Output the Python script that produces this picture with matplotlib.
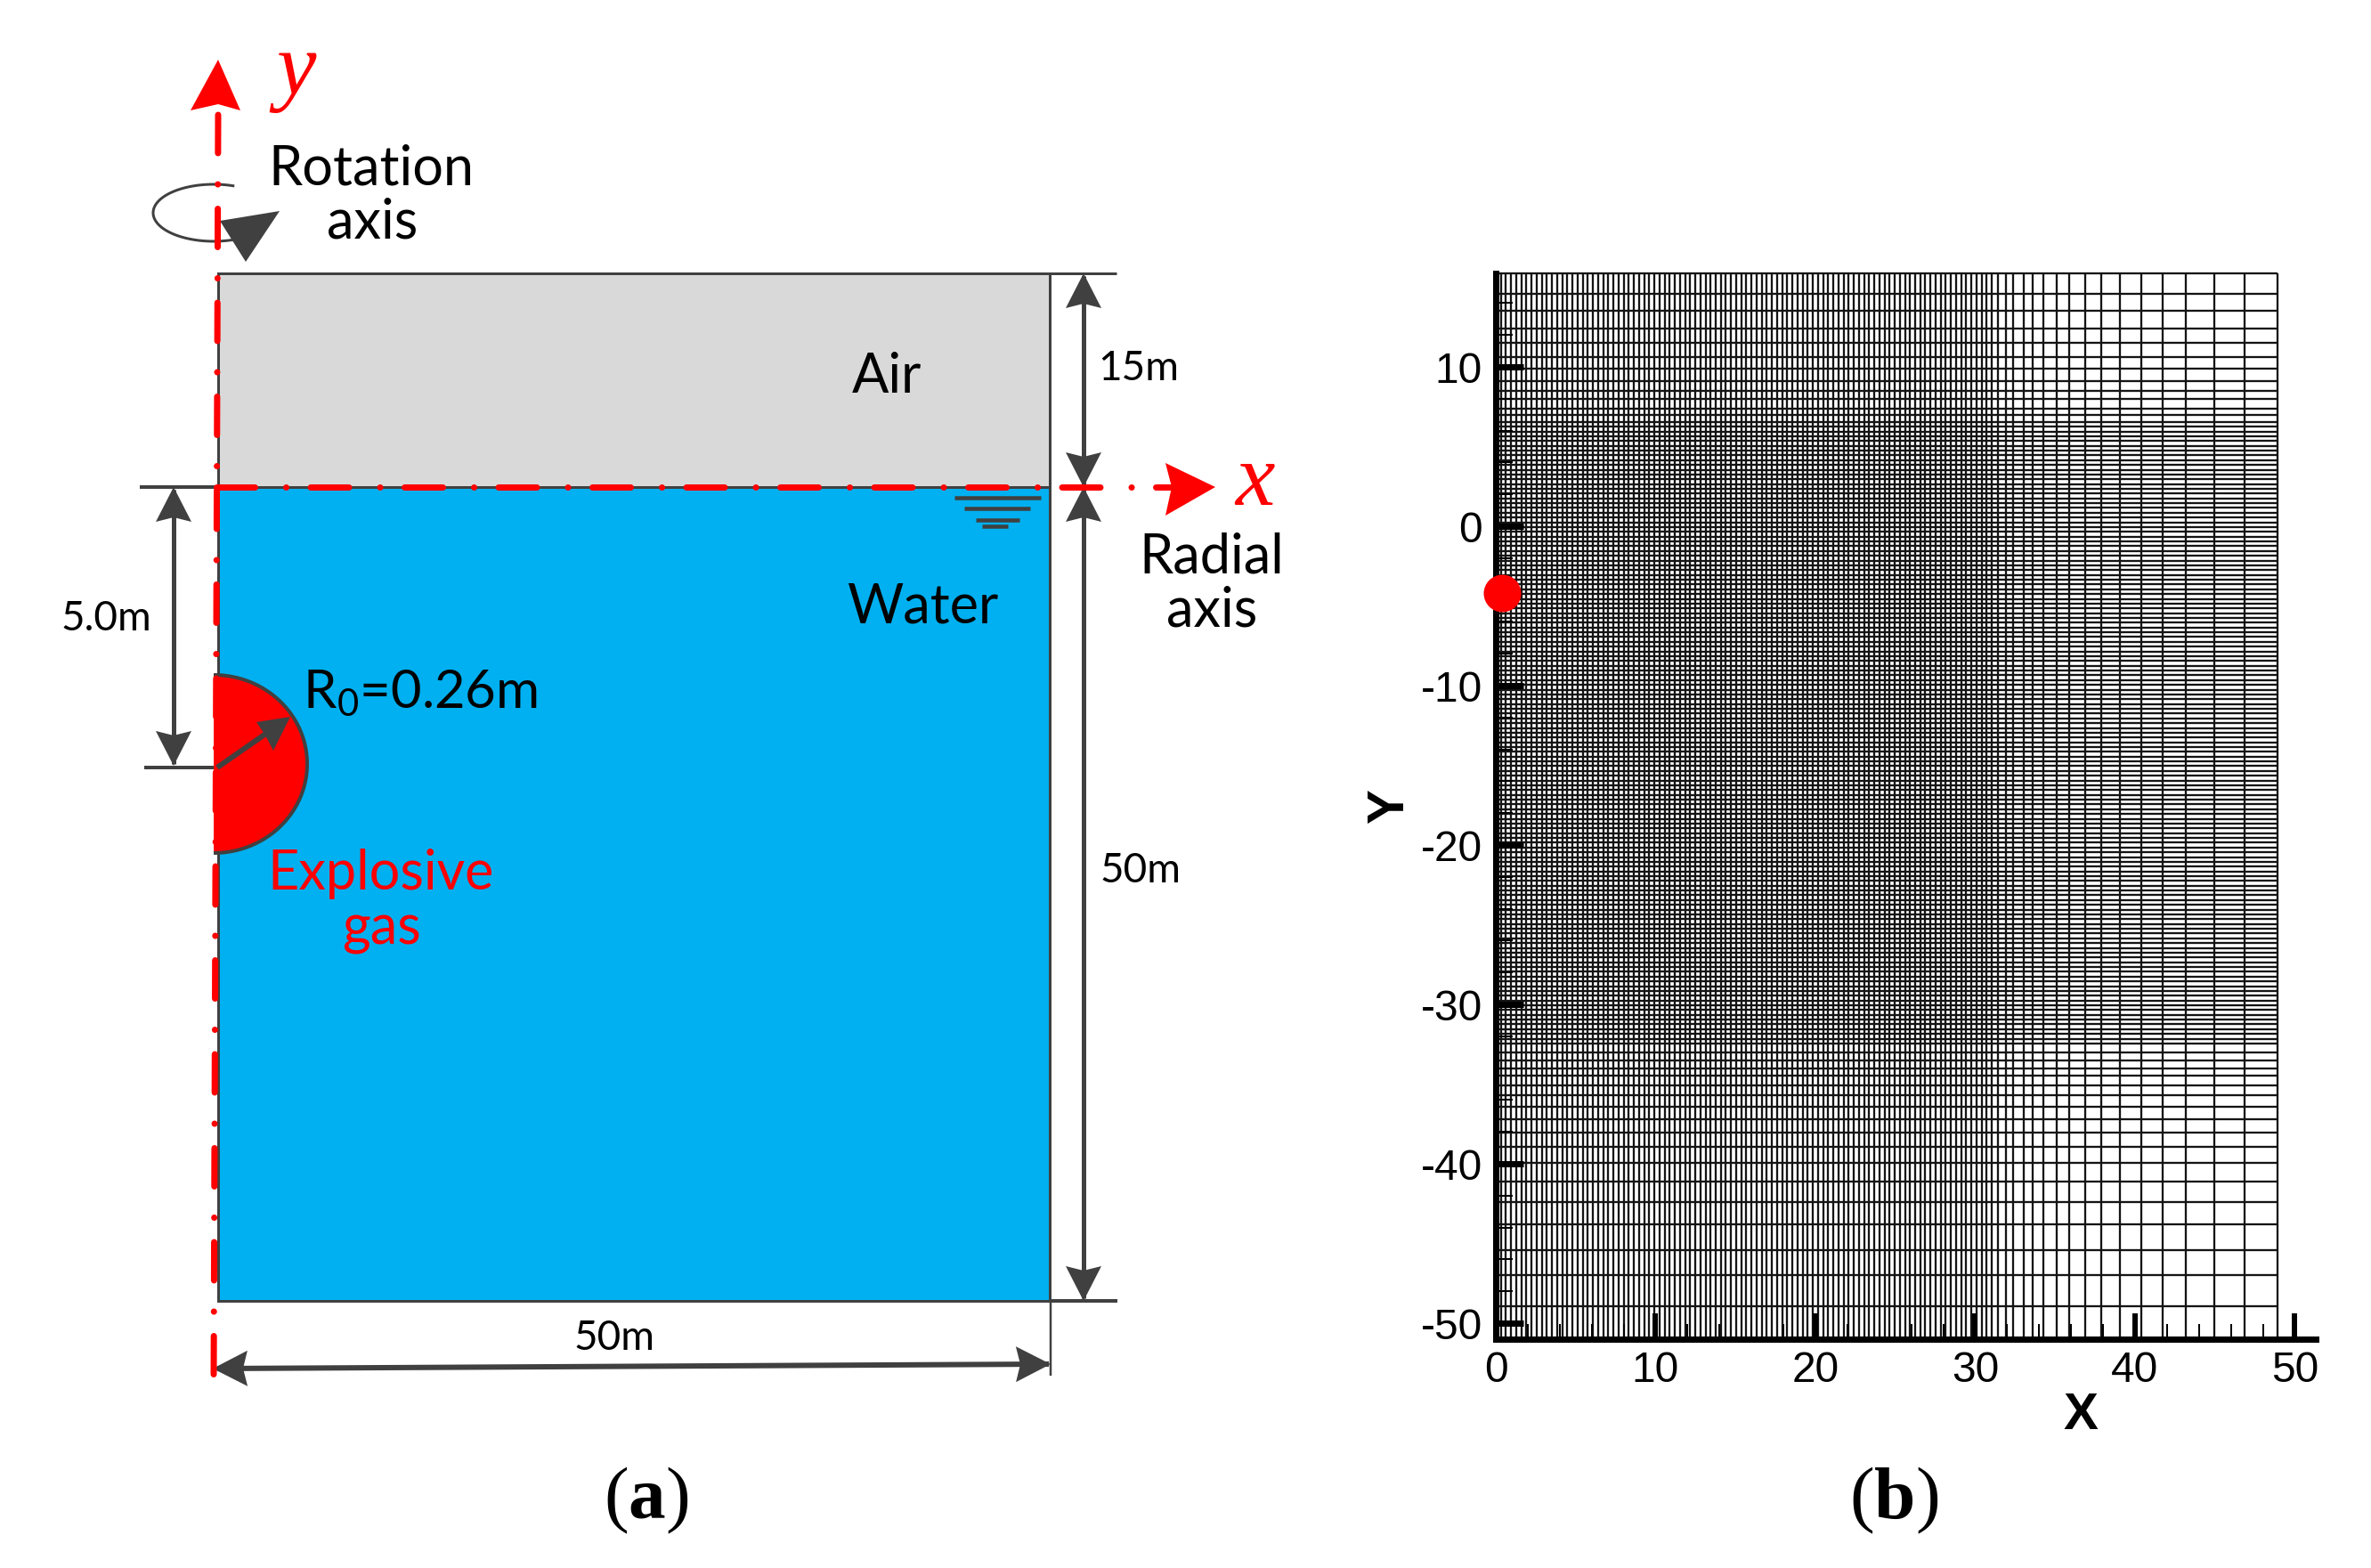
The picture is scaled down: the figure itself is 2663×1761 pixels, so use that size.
import numpy as np
import matplotlib
matplotlib.use("Agg")
import matplotlib.pyplot as plt
from matplotlib.patches import Polygon, Rectangle
from matplotlib.lines import Line2D

plt.rcParams['lines.scale_dashes'] = False
plt.rcParams['mathtext.fontset'] = 'custom'
plt.rcParams['mathtext.rm'] = 'Lato'
plt.rcParams['mathtext.sf'] = 'Liberation Serif'
plt.rcParams['mathtext.bf'] = 'Liberation Serif:bold'
plt.rcParams['axes.unicode_minus'] = False

# ---- mesh of panel (b) ------------------------------------------------------
mesh_x = [0.00,0.32,0.64,0.96,1.28,1.60,1.92,2.24,2.56,2.88,
 3.20,3.52,3.84,4.16,4.48,4.80,5.12,5.44,5.76,6.08,
 6.40,6.72,7.04,7.36,7.68,8.00,8.32,8.64,8.96,9.28,
 9.60,9.92,10.24,10.56,10.88,11.20,11.52,11.84,12.16,12.48,
 12.80,13.12,13.44,13.76,14.08,14.40,14.72,15.04,15.36,15.68,
 16.00,16.32,16.64,16.96,17.28,17.60,17.92,18.24,18.56,18.88,
 19.20,19.52,19.84,20.16,20.48,20.80,21.12,21.44,21.76,22.08,
 22.40,22.72,23.04,23.36,23.68,24.00,24.32,24.64,24.96,25.28,
 25.60,25.92,26.24,26.56,26.88,27.20,27.52,27.84,28.16,28.48,
 28.80,29.12,29.44,29.76,30.08,30.40,30.72,
 31.03,31.42,31.92,32.37,33.04,33.60,34.26,35.10,35.90,36.86,
 37.90,39.03,40.37,41.70,43.20,44.94,46.85,48.93]
mesh_y = [15.87,14.6,13.5,12.4,11.5,10.6,9.9,9.1,8.5,7.97,7.37,7.0,
 6.55,6.25,5.95,5.65,5.35,5.05,4.75,4.45,4.15,3.85,3.55,3.25,2.95,2.65,2.35,
 2.05,1.75,1.45,1.15,0.85,0.55,0.25,-0.05,-0.35,-0.65,-0.95,-1.25,-1.55,-1.85,
 -2.15,-2.45,-2.75,-3.05,-3.35,-3.65,-3.95,-4.25,-4.55,-4.85,-5.15,-5.45,-5.75,
 -6.05,-6.35,-6.65,-6.95,-7.25,-7.55,-7.85,-8.15,-8.45,-8.75,-9.05,-9.35,-9.65,
 -9.95,-10.25,-10.55,-10.85,-11.15,-11.45,-11.75,-12.05,-12.35,-12.65,-12.95,
 -13.25,-13.55,-13.85,-14.15,-14.45,-14.75,-15.05,-15.35,-15.65,-15.95,-16.25,
 -16.55,-16.85,-17.15,-17.45,-17.75,-18.05,-18.35,-18.65,-18.95,-19.25,-19.55,
 -19.85,-20.15,-20.45,-20.75,-21.05,-21.35,-21.65,-21.95,-22.25,-22.55,-22.85,
 -23.15,-23.45,-23.75,-24.05,-24.35,-24.65,-24.95,-25.25,-25.55,-25.85,-26.15,
 -26.45,-26.75,-27.05,-27.35,-27.65,-27.95,-28.25,-28.55,-28.85,-29.15,-29.45,
 -29.75,-30.05,-30.35,-30.65,-30.95,-31.25,-31.55,-31.85,-32.15,-32.45,
 -33.0,-33.5,-34.0,-34.49,-35.08,-35.67,-36.4,-37.18,-38.02,-38.96,-39.94,
 -41.1,-42.4,-43.8,-45.4,-47.0,-48.92]
charge_point = (0.4, -4.2)

x_major = [0, 10, 20, 30, 40, 50]
x_major_labels = ['0', '10', '20', '30', '40', '50']
y_major = [10, 0, -10, -20, -30, -40, -50]
y_major_labels = ['10', '0', '-10', '-20', '-30', '-40', '-50']
x_minor = [2,4,6,8,12,14,16,18,22,24,26,28,32,34,36,38,42,44,46,48]
y_minor = [14,12,8,6,4,2,-2,-4,-6,-8,-12,-14,-16,-18,-22,-24,-26,-28,-32,-34,-36,-38,-42,-44,-46,-48]

W, H = 2663, 1761
px = 0.72            # points per pixel at dpi 100
DARK = '#404040'; RED = '#FF0000'; WATER = '#00B0F0'; AIR = '#D9D9D9'

fig = plt.figure(figsize=(W/100, H/100), dpi=100, facecolor='white')

# ---- panel (b) --------------------------------------------------------------
L, R_, T, B = 1680, 2601, 307, 1504
axb = fig.add_axes([L/W, 1-B/H, (R_-L)/W, (B-T)/H])
axb.set_xlim(0, 51.31); axb.set_ylim(-51.0, 15.87)
mesh_kw = dict(color='#141414', lw=1.65, clip_on=False, zorder=1)
axb.vlines(mesh_x, -51.0, mesh_y[0], **mesh_kw)
axb.hlines(mesh_y, 0, mesh_x[-1], **mesh_kw)
for s in ('top', 'right'):
    axb.spines[s].set_visible(False)
for s in ('left', 'bottom'):
    axb.spines[s].set_linewidth(7*px); axb.spines[s].set_zorder(5)
axb.set_xticks(x_major, x_major_labels, family='Liberation Sans', fontsize=34.5)
axb.set_yticks(y_major, y_major_labels, family='Liberation Sans', fontsize=34.5)
axb.set_xticks(x_minor, minor=True); axb.set_yticks(y_minor, minor=True)
axb.tick_params(axis='x', which='major', direction='in', length=29*px, width=6*px, pad=13*px, zorder=4)
axb.tick_params(axis='x', which='minor', direction='in', length=17*px, width=2*px, zorder=4)
axb.tick_params(axis='y', which='major', direction='in', length=31*px, width=7*px, pad=15*px, zorder=4)
axb.tick_params(axis='y', which='minor', direction='in', length=19*px, width=2*px, zorder=4)
axb.scatter(*charge_point, s=(42*px)**2, color=RED, linewidths=0, clip_on=False, zorder=6)

# ---- schematic of panel (a), in figure pixels --------------------------------
ax = fig.add_axes([0, 0, 1, 1], facecolor='none')
ax.set_xlim(0, W); ax.set_ylim(H, 0); ax.axis('off')

def line(xs, ys, lw=5, color=DARK, z=5, **k):
    ax.add_line(Line2D(xs, ys, lw=lw*px, color=color, zorder=z, solid_capstyle=k.pop('cap', 'butt'), **k))

def poly(pts, color=DARK, z=6):
    ax.add_patch(Polygon(pts, closed=True, fc=color, ec='none', zorder=z))

def stealth(tx, ty, dx, dy, length=39, half=20, notch=5, color=DARK, z=6):
    """arrow head with its tip at (tx,ty), pointing along unit vector (dx,dy)"""
    nx, ny = -dy, dx
    bx, by = tx-dx*length, ty-dy*length
    poly([(tx, ty), (bx+nx*half, by+ny*half), (tx-dx*(length-notch), ty-dy*(length-notch)),
          (bx-nx*half, by-ny*half)], color, z)

xl, xr, yt, ys, yb = 245, 1179, 307, 547, 1461
ax.add_patch(Rectangle((xl, yt), xr-xl, ys-yt, fc=AIR, ec=DARK, lw=3*px, zorder=2))
ax.add_patch(Rectangle((xl, ys), xr-xl, yb-ys, fc=WATER, ec=DARK, lw=3*px, zorder=2))

# explosive bubble
t = np.linspace(-np.pi/2, np.pi/2, 120)
bx, by = 240+105*np.cos(t), 858+100*np.sin(t)
ax.add_patch(Polygon(np.c_[bx, by], closed=True, fc=RED, ec='none', zorder=3))
line(bx, by, lw=4, z=3.5)

# extension lines
line([xr, 1254], [yt, yt], 3)
line([xr, 1255], [yb, yb], 4)
line([157, 245], [ys, ys], 4)
line([162, 240], [862, 862], 4)
line([1180, 1180], [yb, 1545], 2.5)

# red axes
pattern = (0, (43*px, 35*px, 0.1*px, 27.4*px))
ax.add_line(Line2D([245, 240], [129, 1552], lw=7*px, color=RED, ls=pattern, dash_capstyle='round', zorder=7))
ax.add_line(Line2D([243, 1318], [547, 547], lw=7*px, color=RED, ls=pattern, dash_capstyle='round', zorder=7))
poly([(245, 67), (270, 124), (245, 117), (214, 124)], RED, 8)
poly([(1365, 547), (1309, 579), (1316, 547), (1309, 520)], RED, 8)

# rotation symbol
t = np.radians(np.linspace(70, 290, 100))
line(240+68*np.cos(t), 239+32*np.sin(t), 3)
poly([(247, 248), (314, 237), (276, 294)])

# dimension arrows
line([1217, 1217], [310, 1458])
for tip, d in ((307, -1), (547, 1), (547, -1), (1461, 1)):
    stealth(1217, tip, 0, d)
line([195, 195], [550, 858])
stealth(195, 547, 0, -1); stealth(195, 860, 0, 1)
line([244, 1178], [1537, 1532], 6)
stealth(1180, 1532, 1, -0.005); stealth(239, 1537, -1, 0.005)
line([244, 300], [862, 823], 6)
poly([(326, 805), (288, 811), (297.5, 825), (307, 843)])

# water level symbol
for x0, x1, y0 in ((1072, 1169, 559), (1083, 1157, 571), (1096, 1145, 584), (1103, 1132, 591)):
    line([x0, x1], [y0, y0], 4.5, z=4)

# labels
big = dict(family='Lato', fontsize=44, ha='center', va='baseline', zorder=9)
small = dict(family='Lato', fontsize=33, ha='center', va='baseline', zorder=9)
ax.text(417, 207, 'Rotation', **big)
ax.text(418, 267, 'axis', **big)
ax.text(996, 441, 'Air', **big)
ax.text(1036, 700, 'Water', **big)
ax.text(1361, 643, 'Radial', **big)
ax.text(1361, 704, 'axis', **big)
ax.text(340, 795, r'R$_{\mathrm{0}}$=0.26m', family='Lato', fontsize=43, ha='left', va='baseline', zorder=9)
ax.text(428, 999, 'Explosive', color=RED, **big)
ax.text(428, 1060, 'gas', color=RED, **big)
ax.text(119, 708, '5.0m', **small)
ax.text(1279, 427, '15m', **small)
ax.text(1281, 991, '50m', **small)
ax.text(690, 1516, '50m', **small)
serif = dict(family='Liberation Serif', style='italic', fontsize=72, ha='center', va='baseline', color=RED, zorder=9)
ax.text(333, 106, 'y', **serif)
ax.text(1409, 567, 'x', **serif)
cap = dict(fontsize=60, ha='center', va='baseline', family='Liberation Serif')
ax.text(726, 1705, r'$\mathsf{(}\mathbf{a}\mathsf{)}$', **cap)
ax.text(2127, 1705, r'$\mathsf{(}\mathbf{b}\mathsf{)}$', **cap)
bold = dict(family='Liberation Sans', weight='bold', fontsize=42, ha='center', va='center', zorder=9)
ax.text(2337, 1590, 'X', **bold)
ax.text(1561, 906, 'Y', rotation=90, **bold)

fig.savefig('out.png', dpi=100, facecolor='white')
